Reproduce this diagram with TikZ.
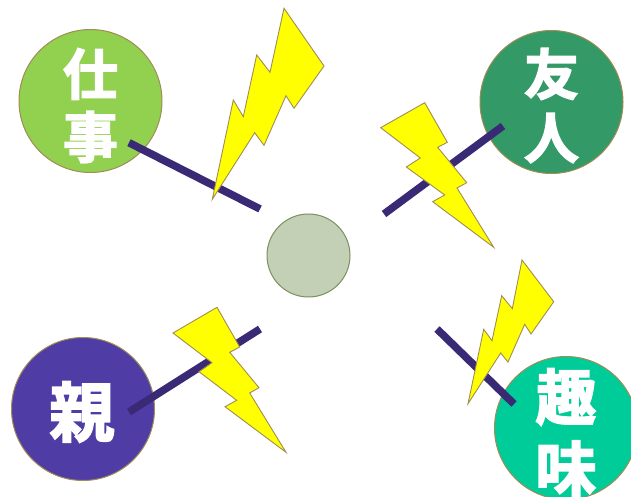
\documentclass[tikz,border=0pt]{standalone}
\usepackage{fontspec}
\newfontfamily\cjk[FakeBold=2.6]{Noto Sans CJK JP Bold}
\definecolor{edgeb}{HTML}{A08C55}
\definecolor{cwork}{HTML}{92D050}
\definecolor{cfriend}{HTML}{339966}
\definecolor{cparent}{HTML}{503CA5}
\definecolor{chobby}{HTML}{00CC99}
\definecolor{ccentre}{HTML}{C3D0B5}
\definecolor{cedge}{HTML}{7A9060}
\definecolor{cline}{HTML}{3A2A75}
\definecolor{cbolt}{HTML}{FFFF00}
\tikzset{
  x=1pt,y=-1pt,
  topic/.style={circle,draw=edgeb,line width=1pt,minimum size=143pt,inner sep=0pt},
  bolt/.style={fill=cbolt,draw=edgeb,line width=0.9pt,line join=miter,miter limit=10},
  spoke/.style={draw=cline,line width=7.6pt},
  kanji/.style={text=white,inner sep=0pt,font=\cjk\fontsize{#1}{#1}\selectfont,anchor=center}
}
\begin{document}
\begin{tikzpicture}
\useasboundingbox (0,0) rectangle (631,497);
\clip (0,0) rectangle (631,497);
\fill[white] (0,0) rectangle (631,497);
\node[topic,fill=cwork] (work) at (90.5,101) {};
\node[topic,fill=cfriend] (friend) at (551.5,102) {};
\node[topic,fill=cparent] (parent) at (83,409) {};
\node[topic,fill=chobby] (hobby) at (566,428) {};
\node[circle,fill=ccentre,draw=cedge,line width=1pt,minimum size=83pt,inner sep=0pt] (centre) at (308.5,255.5) {};
\node[kanji=55] (t1) at (90.5,74) {仕};
\node[kanji=55] (t2) at (90.5,137) {事};
\node[kanji=55] (t3) at (551.5,74) {友};
\node[kanji=55] (t4) at (551.5,138) {人};
\node[kanji=65] (t5) at (82,412) {親};
\node[kanji=61] (t6) at (566,397) {趣};
\node[kanji=61] (t7) at (566,469) {味};
\coordinate (w1) at (129,142.7); \coordinate (w2) at (260,209);
\coordinate (f1) at (503,126); \coordinate (f2) at (384,214);
\coordinate (p1) at (129,412); \coordinate (p2) at (260,329);
\coordinate (h1) at (437,329); \coordinate (h2) at (514,404);
\draw[spoke] (w1) -- (w2);
\draw[spoke] (f1) -- (f2);
\draw[spoke] (p1) -- (p2);
\draw[spoke] (h1) -- (h2);
% bolt 1
\draw[bolt] (212.3,199.3) -- (233.3,100) -- (243.3,116.7) -- (256.7,55) -- (270,72.3) -- (284,8.3) -- (324,66) -- (294,108.3) -- (286,95.7) -- (264,145.3) -- (254.7,132.7) -- cycle;
% bolt 2
\draw[bolt] (380.7,127.7) -- (424.7,102.7) -- (447.3,142.3) -- (437.7,147.3) -- (466.7,182.7) -- (457,188) -- (493.7,247.3) -- (432.7,201.7) -- (444.7,195) -- (406.3,167) -- (420.3,158) -- cycle;
% bolt 3
\draw[bolt] (173,333) -- (217,307.3) -- (239.7,347) -- (229.7,352.3) -- (259,387.7) -- (249.7,393) -- (286,452.3) -- (225,406.7) -- (236.7,400.3) -- (199,371.7) -- (212,362.7) -- cycle;
% bolt 4
\draw[bolt] (468,403.7) -- (483.7,329.3) -- (492,340.7) -- (501.7,295.7) -- (512.3,308.7) -- (522,260) -- (553.7,301.7) -- (531,334) -- (524.7,324.3) -- (508,362) -- (500.7,353) -- cycle;
\end{tikzpicture}
\end{document}
